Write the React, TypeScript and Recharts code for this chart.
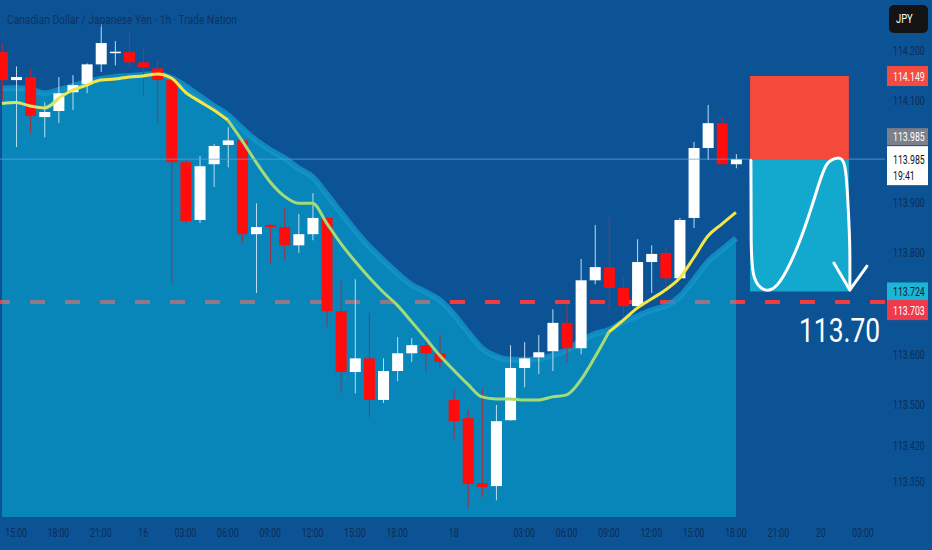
import React from 'react';
import {
  Area,
  Bar,
  ComposedChart,
  Line,
  ReferenceArea,
  ReferenceDot,
  ReferenceLine,
  XAxis,
  YAxis,
} from 'recharts';

// CAD/JPY 1h candles
const opens = [
  114.196, 114.141, 114.147, 114.068, 114.08, 114.117, 114.133, 114.172, 114.195, 114.196,
  114.176, 114.164, 114.141, 113.979, 113.865, 113.975, 114.013, 114.022, 113.837, 113.855,
  113.851, 113.815, 113.837, 113.869, 113.685, 113.565, 113.592, 113.51, 113.567, 113.602,
  113.618, 113.602, 113.51, 113.474, 113.346, 113.34, 113.47, 113.573, 113.594, 113.606,
  113.662, 113.612, 113.746, 113.772, 113.731, 113.695, 113.782, 113.8, 113.75, 113.869,
  114.007, 114.056, 113.975,
];
const highs = [
  114.214, 114.168, 114.164, 114.097, 114.147, 114.151, 114.174, 114.253, 114.218, 114.236,
  114.204, 114.18, 114.151, 113.987, 113.991, 114.015, 114.048, 114.024, 113.898, 113.857,
  113.888, 113.877, 113.918, 113.871, 113.746, 113.748, 113.681, 113.592, 113.634, 113.632,
  113.64, 113.64, 113.529, 113.49, 113.531, 113.5, 113.618, 113.624, 113.638, 113.689,
  113.697, 113.788, 113.855, 113.871, 113.752, 113.827, 113.815, 113.81, 113.869, 114.019,
  114.092, 114.068, 113.995,
];
const lows = [
  114.101, 114.009, 114.036, 114.028, 114.056, 114.082, 114.115, 114.157, 114.17, 114.166,
  114.111, 114.056, 113.74, 113.859, 113.859, 113.93, 113.969, 113.821, 113.721, 113.78,
  113.786, 113.8, 113.825, 113.654, 113.523, 113.523, 113.476, 113.504, 113.547, 113.585,
  113.565, 113.573, 113.431, 113.297, 113.318, 113.312, 113.469, 113.535, 113.561, 113.567,
  113.585, 113.6, 113.738, 113.687, 113.664, 113.694, 113.721, 113.733, 113.748, 113.849,
  113.983, 113.974, 113.967,
];
const closes = [
  114.141, 114.147, 114.07, 114.078, 114.115, 114.131, 114.172, 114.214, 114.197, 114.176,
  114.166, 114.141, 113.979, 113.863, 113.971, 114.011, 114.022, 113.837, 113.851, 113.851,
  113.815, 113.837, 113.869, 113.685, 113.565, 113.592, 113.51, 113.567, 113.602, 113.618,
  113.602, 113.585, 113.468, 113.344, 113.338, 113.468, 113.573, 113.592, 113.604, 113.662,
  113.612, 113.746, 113.772, 113.731, 113.695, 113.782, 113.798, 113.75, 113.865, 114.007,
  114.056, 113.975, 113.985,
];
// moving average
const maValues = [
  114.095, 114.097, 114.09, 114.086, 114.105, 114.121, 114.131, 114.141, 114.143, 114.147,
  114.149, 114.153, 114.145, 114.117, 114.099, 114.082, 114.062, 114.022, 113.979, 113.94,
  113.912, 113.898, 113.898, 113.859, 113.819, 113.784, 113.752, 113.723, 113.697, 113.665,
  113.632, 113.598, 113.569, 113.541, 113.516, 113.512, 113.512, 113.51, 113.51, 113.516,
  113.52, 113.549, 113.594, 113.644, 113.667, 113.691, 113.709, 113.727, 113.75, 113.79,
  113.833, 113.857, 113.88,
];
// upper band of the shaded cloud
const bandValues = [
  114.125, 114.125, 114.123, 114.115, 114.121, 114.129, 114.137, 114.143, 114.147, 114.149,
  114.151, 114.153, 114.145, 114.129, 114.109, 114.09, 114.072, 114.046, 114.022, 114.003,
  113.987, 113.967, 113.95, 113.916, 113.88, 113.845, 113.813, 113.786, 113.76, 113.737,
  113.723, 113.707, 113.679, 113.644, 113.612, 113.596, 113.589, 113.589, 113.591, 113.598,
  113.608, 113.626, 113.64, 113.648, 113.664, 113.675, 113.687, 113.695, 113.713, 113.746,
  113.782, 113.806, 113.829,
];

const timeTicks = [1, 4, 7, 10, 13, 16, 19, 22, 25, 28, 32, 37, 40, 43, 46, 49, 52, 55, 58, 61];
const timeLabels = [
  '15:00', '18:00', '21:00', '16', '03:00', '06:00', '09:00', '12:00', '15:00', '18:00',
  '18', '03:00', '06:00', '09:00', '12:00', '15:00', '18:00', '21:00', '20', '03:00',
];
const priceTicks = [114.2, 114.1, 113.9, 113.8, 113.6, 113.5, 113.42, 113.35];

// short position drawing
const entryPrice = 113.985;
const stopPrice = 114.149;
const targetPrice = 113.724;
const levelPrice = 113.703;
const positionFrom = 53;
const positionTo = 60;

// hand drawn path inside the position box (bar index, price)
const pathPoints = [
  { i: 53.06, p: 113.983 },
  { i: 53.08, p: 113.825 },
  { i: 53.3, p: 113.752 },
  { i: 54.06, p: 113.727 },
  { i: 55.12, p: 113.744 },
  { i: 56.54, p: 113.825 },
  { i: 57.74, p: 113.924 },
  { i: 58.45, p: 113.975 },
  { i: 59.16, p: 113.987 },
  { i: 59.72, p: 113.969 },
  { i: 59.95, p: 113.89 },
  { i: 60.06, p: 113.815 },
  { i: 60.07, p: 113.727 },
];
const arrowHead = [
  { i: 58.94, p: 113.78 },
  { i: 60.07, p: 113.727 },
  { i: 61.28, p: 113.774 },
];

const maSegments = [
  { from: 0, to: 4, color: '#d2e56c' },
  { from: 4, to: 16, color: '#f3e748' },
  { from: 16, to: 43, color: '#a2dc7a' },
  { from: 43, to: 52, color: '#f3e748' },
];

const rows = opens.map((open, i) => ({
  i,
  open,
  high: highs[i],
  low: lows[i],
  close: closes[i],
  ma: maValues[i],
  band: bandValues[i],
}));

const BG = '#0b5395';
const AXIS_TEXT = '#0c2d58';
const FONT = 'Roboto, "Noto Sans", sans-serif';
const X_DOMAIN = [-0.14, 62.56];
const Y_DOMAIN = [113.279, 114.299];

// the screenshot is squeezed sideways, so the text is too
const Narrow = ({ x, y, sx = 0.7, children, ...rest }: any) => (
  <text transform={`translate(${x} ${y}) scale(${sx} 1)`} fontFamily={FONT} {...rest}>
    {children}
  </text>
);

const Candle = (props: any) => {
  const { x, y, width, height, payload } = props;
  if (!payload || !height) return null;
  const top = Math.min(y, y + height);
  const h = Math.abs(height);
  const { open, close, high, low } = payload;
  const k = h / (high - low);
  const cx = x + width / 2;
  const up = close >= open;
  const bodyTop = top + (high - Math.max(open, close)) * k;
  const bodyH = Math.max(1.5, Math.abs(open - close) * k);
  return (
    <g>
      <line x1={cx} x2={cx} y1={top} y2={top + h} stroke={up ? '#b9def2' : '#a82c42'} strokeWidth={1} />
      <rect x={x} y={bodyTop} width={width} height={bodyH} fill={up ? '#ffffff' : '#ff0d0d'} />
    </g>
  );
};

const TimeTick = ({ x, y, payload }: any) => {
  const label = timeLabels[timeTicks.indexOf(payload.value)] || '';
  return (
    <Narrow x={x} y={y + 20} sx={0.72} textAnchor="middle" fill={AXIS_TEXT} fontSize={12}>
      {label}
    </Narrow>
  );
};

const PriceTick = ({ x, y, payload }: any) => (
  <Narrow x={x} y={y + 4.5} fill={AXIS_TEXT} fontSize={12.5}>
    {payload.value.toFixed(3)}
  </Narrow>
);

const priceTag = (fill: string, color: string, text: string, shift: number, h: number) => (p: any) => (
  <g>
    <rect x={p.cx + 2} y={p.cy + shift - h / 2} width={41} height={h} fill={fill} />
    <Narrow x={p.cx + 8} y={p.cy + shift + 4.5} fill={color} fontSize={12.5}>
      {text}
    </Narrow>
  </g>
);

const lastTag = (p: any) => (
  <g>
    <rect x={p.cx + 2} y={p.cy - 13} width={41} height={39} fill="#ffffff" />
    <Narrow x={p.cx + 8} y={p.cy + 4.5} fill="#111" fontSize={12.5}>
      {entryPrice.toFixed(3)}
    </Narrow>
    <Narrow x={p.cx + 8} y={p.cy + 21} fill="#111" fontSize={12.5}>
      19:41
    </Narrow>
  </g>
);

const App = () => (
  <div style={{ position: 'absolute', left: 0, top: 0, width: 932, height: 550, background: BG, overflow: 'hidden' }}>
    <ComposedChart width={932} height={550} data={rows} margin={{ top: 0, right: 0, left: 0, bottom: 0 }}>
      <XAxis
        type="number"
        dataKey="i"
        domain={X_DOMAIN}
        allowDataOverflow
        ticks={timeTicks}
        interval={0}
        height={33}
        axisLine={false}
        tickLine={false}
        tickSize={0}
        tickMargin={0}
        tick={<TimeTick />}
      />
      <XAxis xAxisId="ann" type="number" dataKey="i" domain={X_DOMAIN} allowDataOverflow hide />
      <YAxis
        orientation="right"
        type="number"
        domain={Y_DOMAIN}
        allowDataOverflow
        ticks={priceTicks}
        interval={0}
        width={47}
        axisLine={false}
        tickLine={false}
        tickSize={0}
        tickMargin={8}
        tick={<PriceTick />}
      />
      <ReferenceLine y={levelPrice} stroke="#f43b3b" strokeWidth={4} strokeDasharray="15 20" zIndex={50} />
      <Area
        type="monotone"
        dataKey="band"
        stroke="#1496cb"
        strokeWidth={6}
        strokeOpacity={0.8}
        fill="#04ccee"
        fillOpacity={0.42}
        dot={false}
        activeDot={false}
        isAnimationActive={false}
        zIndex={100}
      />
      <Bar
        dataKey={(d: any) => [d.low, d.high]}
        barSize={11}
        shape={(p: any) => <Candle {...p} />}
        isAnimationActive={false}
        zIndex={200}
      />
      {maSegments.map((s, n) => (
        <Line
          key={`ma${n}`}
          type="monotone"
          dataKey={(d: any) => (d.i >= s.from && d.i <= s.to ? d.ma : null)}
          stroke={s.color}
          strokeWidth={3}
          dot={false}
          activeDot={false}
          isAnimationActive={false}
          zIndex={300}
        />
      ))}
      <ReferenceLine y={entryPrice} stroke="#5aa6dc" strokeOpacity={0.75} strokeWidth={1} zIndex={310} />
      <ReferenceArea
        x1={positionFrom}
        x2={positionTo}
        y1={entryPrice}
        y2={stopPrice}
        fill="#f4493b"
        fillOpacity={1}
        stroke="none"
        ifOverflow="visible"
        zIndex={350}
      />
      <ReferenceArea
        x1={positionFrom}
        x2={positionTo}
        y1={targetPrice}
        y2={entryPrice}
        fill="#13a8cd"
        fillOpacity={1}
        stroke="none"
        ifOverflow="visible"
        zIndex={350}
      />
      <Line
        xAxisId="ann"
        data={pathPoints}
        dataKey="p"
        type="natural"
        stroke="#ffffff"
        strokeWidth={3}
        strokeLinecap="round"
        dot={false}
        activeDot={false}
        isAnimationActive={false}
        zIndex={400}
      />
      <Line
        xAxisId="ann"
        data={arrowHead}
        dataKey="p"
        type="linear"
        stroke="#ffffff"
        strokeWidth={3}
        strokeLinecap="round"
        strokeLinejoin="round"
        dot={false}
        activeDot={false}
        isAnimationActive={false}
        zIndex={400}
      />
      <ReferenceDot x={X_DOMAIN[1]} y={stopPrice} r={0} ifOverflow="visible" shape={priceTag('#f44a3f', '#fff', stopPrice.toFixed(3), 0, 20)} zIndex={500} />
      <ReferenceDot x={X_DOMAIN[1]} y={entryPrice} r={0} ifOverflow="visible" shape={priceTag('#7d8088', '#fff', entryPrice.toFixed(3), -22.5, 17)} zIndex={500} />
      <ReferenceDot x={X_DOMAIN[1]} y={entryPrice} r={0} ifOverflow="visible" shape={lastTag} zIndex={500} />
      <ReferenceDot x={X_DOMAIN[1]} y={targetPrice} r={0} ifOverflow="visible" shape={priceTag('#1cb5d3', '#0b2036', targetPrice.toFixed(3), 0, 18)} zIndex={500} />
      <ReferenceDot x={X_DOMAIN[1]} y={levelPrice} r={0} ifOverflow="visible" shape={priceTag('#f0394a', '#fff', levelPrice.toFixed(3), 8, 20)} zIndex={500} />
    </ComposedChart>
    <svg width={932} height={550} style={{ position: 'absolute', left: 0, top: 0, pointerEvents: 'none' }}>
      <text x={7} y={24} fill="#0e3360" fontSize={13.5} fontFamily={FONT} textLength={230} lengthAdjust="spacingAndGlyphs">
        Canadian Dollar / Japanese Yen · 1h · Trade Nation
      </text>
      <rect x={889} y={5} width={39} height={28} rx={5} fill="#141414" />
      <Narrow x={896} y={23} sx={0.75} fill="#ffffff" fontSize={12.5}>
        JPY
      </Narrow>
      <Narrow x={799} y={342} sx={0.776} fill="#ffffff" fontSize={34}>
        113.70
      </Narrow>
    </svg>
  </div>
);

export default App;
